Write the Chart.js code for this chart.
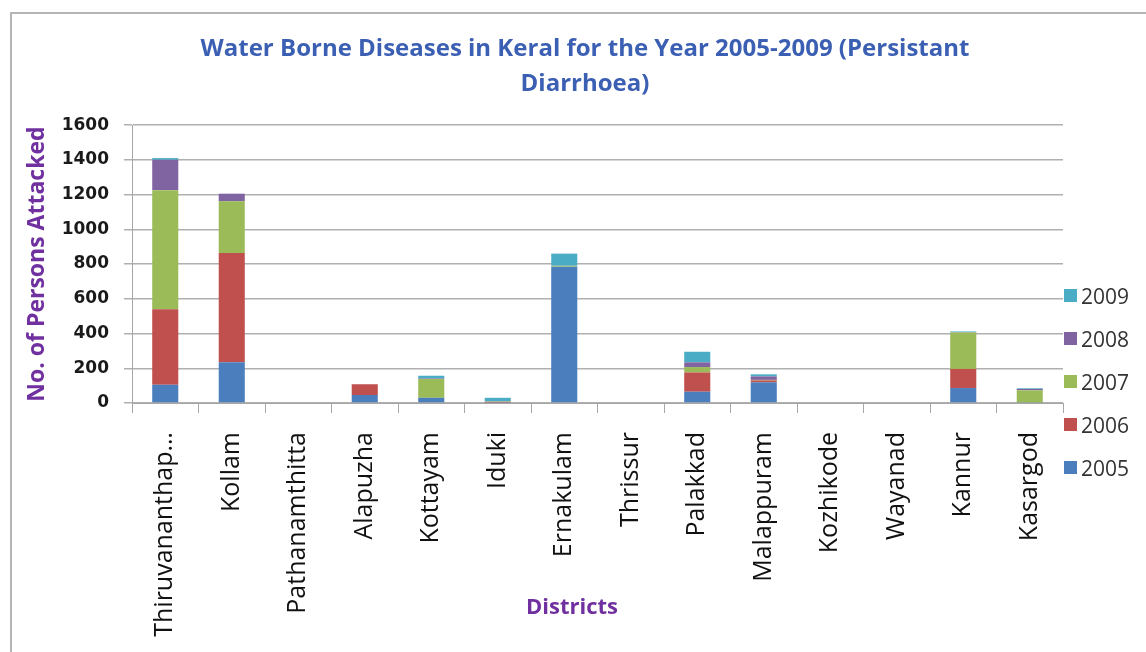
<!DOCTYPE html>
<html>
<head>
<meta charset="utf-8">
<title>Persistant Diarrhoea in Kerala 2005-2009</title>
<script src="https://cdn.jsdelivr.net/npm/chart.js@4.4.1/dist/chart.umd.min.js"></script>
<style>
  html, body { margin: 0; padding: 0; background: #fff; }
  #wrap { position: relative; width: 1146px; height: 652px; overflow: hidden; }
  #frame {
    position: absolute; left: 10px; top: 12px; width: 1200px; height: 700px;
    border-left: 2px solid #b5b5b5; border-top: 2px solid #b5b5b5;
  }
  #chart { position: absolute; left: 0; top: 0; }
  #legend {
    position: absolute; left: 1064px; top: 274px;
    font-family: "Open Sans", sans-serif; font-size: 21px; color: #333;
  }
  #legend .item { height: 43px; display: flex; align-items: center; }
  #legend .swatch { width: 13px; height: 13px; margin-right: 4px; }
  #xtitle {
    position: absolute; left: 472px; width: 200px; top: 590px; text-align: center;
    font-family: "Open Sans", sans-serif; font-size: 22px; font-weight: bold;
    color: #7030a0; line-height: 30px;
  }
</style>
</head>
<body>
<div id="wrap">
  <div id="frame"></div>
  <canvas id="chart" width="1146" height="652"></canvas>
  <div id="legend"></div>
  <div id="xtitle">Districts</div>
</div>
<script>
const districts = [
  "Thiruvananthapuram", "Kollam", "Pathanamthitta", "Alapuzha", "Kottayam",
  "Iduki", "Ernakulam", "Thrissur", "Palakkad", "Malappuram",
  "Kozhikode", "Wayanad", "Kannur", "Kasargod"
];
const years = ["2005", "2006", "2007", "2008", "2009"];
const cases2005 = [105, 234, 0, 46, 30, 3, 785, 0, 65, 119, 0, 0, 86, 3];
const cases2006 = [435, 630, 0, 62, 0, 4, 0, 0, 111, 11, 0, 0, 110, 0];
const cases2007 = [685, 297, 0, 0, 108, 2, 5, 0, 31, 3, 0, 0, 210, 70];
const cases2008 = [175, 44, 0, 0, 3, 0, 0, 0, 27, 20, 0, 0, 2, 8];
const cases2009 = [10, 0, 0, 0, 16, 21, 70, 0, 61, 12, 0, 0, 4, 4];
const yMin = 0, yMax = 1600, yStep = 200;

const colors = ["#4a7ebd", "#c0504d", "#9bbb59", "#8064a2", "#4bacc6"];
const series = [cases2005, cases2006, cases2007, cases2008, cases2009];

const ctx = document.getElementById("chart");
const chart = new Chart(ctx, {
  type: "bar",
  data: {
    labels: districts,
    datasets: years.map((y, i) => ({
      label: y,
      data: series[i],
      backgroundColor: colors[i],
      borderWidth: 0,
      categoryPercentage: 0.8,
      barPercentage: 0.49,
    })),
  },
  options: {
    responsive: false,
    animation: false,
    devicePixelRatio: 1,
    layout: { padding: { left: 24, right: 0, top: 0, bottom: 0 } },
    plugins: {
      legend: { display: false },
      tooltip: { enabled: false },
      title: {
        display: true,
        text: ["Water Borne Diseases in Keral for the Year 2005-2009 (Persistant", "Diarrhoea)"],
        color: "#3b5fb3",
        font: { family: "Open Sans", size: 24, weight: "bold", lineHeight: 1.46 },
        padding: { top: 32, bottom: 23 },
      },
    },
    scales: {
      x: {
        stacked: true,
        grid: {
          offset: true,
          drawOnChartArea: false,
          tickLength: 10,
          color: "#a6a6a6",
        },
        border: { color: "#a6a6a6" },
        ticks: {
          autoSkip: false,
          minRotation: 90,
          maxRotation: 90,
          padding: 19,
          color: "#111",
          font: { family: "Open Sans", size: 25 },
          callback: function (value) {
            const name = this.getLabelForValue(value);
            return name.length > 16 ? name.slice(0, 14) + "\u2026" : name;
          },
        },
        afterFit: (scale) => { scale.height = 249; },
      },
      y: {
        stacked: true,
        min: yMin,
        max: yMax,
        grid: { color: "#b0b0b0", lineWidth: 1.5, tickLength: 8 },
        border: { color: "#a6a6a6" },
        ticks: {
          stepSize: yStep,
          padding: 15,
          color: "#1a1a1a",
          font: { family: "DejaVu Sans", size: 17, weight: "bold" },
          callback: (v) => String(v),
        },
        title: {
          display: true,
          text: "No. of Persons Attacked",
          color: "#7030a0",
          font: { family: "Open Sans", size: 23, weight: "bold" },
          padding: { top: 0, bottom: 0 },
        },
        afterFit: (scale) => { scale.width = 108; },
      },
      // empty right-hand axis that reserves room for the legend
      side: {
        position: "right",
        grid: { display: false },
        border: { display: false },
        ticks: { display: false },
        afterFit: (scale) => { scale.width = 83; },
      },
    },
  },
});

// legend, newest year on top
const legend = document.getElementById("legend");
chart.data.datasets.slice().reverse().forEach((ds) => {
  const item = document.createElement("div");
  item.className = "item";
  const sw = document.createElement("span");
  sw.className = "swatch";
  sw.style.background = ds.backgroundColor;
  const txt = document.createElement("span");
  txt.textContent = ds.label;
  item.appendChild(sw);
  item.appendChild(txt);
  legend.appendChild(item);
});
</script>
</body>
</html>
